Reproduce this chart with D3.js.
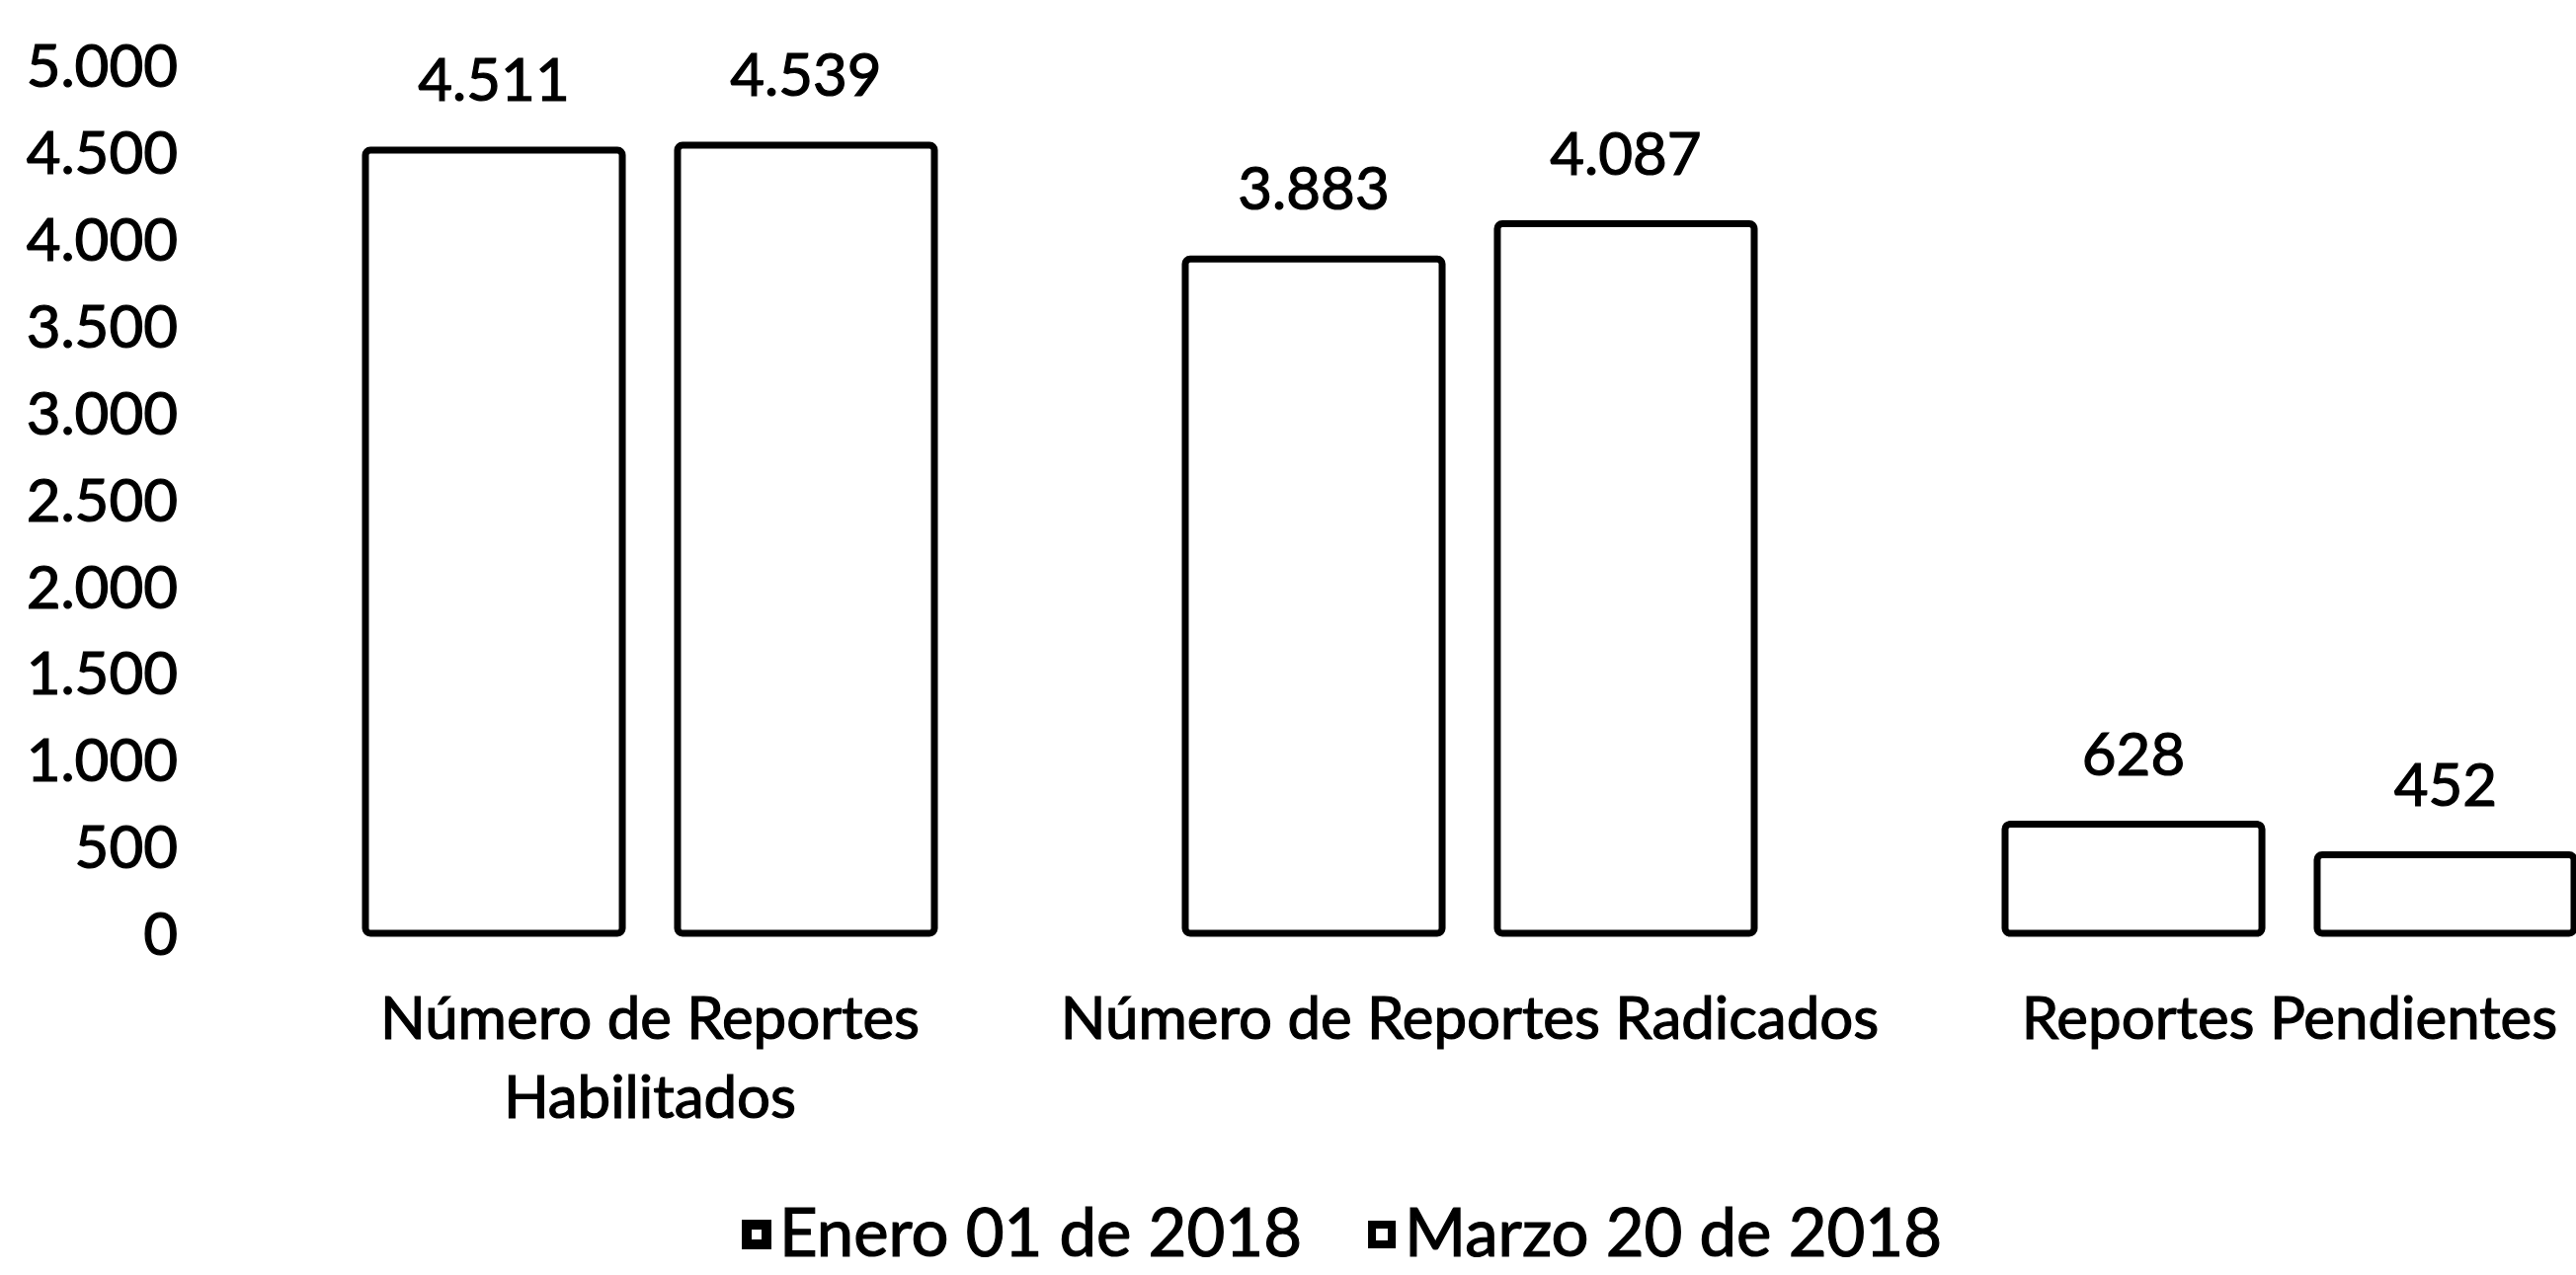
<!DOCTYPE html>
<html>
<head>
<meta charset="utf-8">
<script src="https://cdn.jsdelivr.net/npm/d3@7"></script>
<style>
  html, body { margin: 0; padding: 0; background: #fff; overflow: hidden; }
  text { font-family: Lato, "Noto Sans", sans-serif; fill: #000; stroke: #000; stroke-width: 1.2px; paint-order: stroke; }
</style>
</head>
<body>
<svg id="chart" width="2608" height="1291"></svg>
<script>
// Report counts at two cut-off dates
const categories = ["Número de Reportes Habilitados", "Número de Reportes Radicados", "Reportes Pendientes"];
const seriesNames = ["Enero 01 de 2018", "Marzo 20 de 2018"];
const eneroValues = [4511, 3883, 628];
const marzoValues = [4539, 4087, 452];
const yTickValues = [0, 500, 1000, 1500, 2000, 2500, 3000, 3500, 4000, 4500, 5000];

const seriesValues = [eneroValues, marzoValues];

// Spanish number format: dot as thousands separator
const locale = d3.formatLocale({ decimal: ",", thousands: ".", grouping: [3], currency: ["$", ""] });
const fmt = locale.format(",d");

const svg = d3.select("#chart");

const baseY = 945, topY = 66;
const x0 = d3.scaleBand().domain(categories).range([243, 2733]).paddingInner(0.306).paddingOuter(0.153);
const x1 = d3.scaleBand().domain(seriesNames).range([0, x0.bandwidth()]).paddingInner(0.177);
const y = d3.scaleLinear().domain([0, 5000]).range([baseY, topY]);

// Value axis: labels only
const yAxis = svg.append("g")
  .attr("transform", "translate(180,0)")
  .call(d3.axisLeft(y).tickValues(yTickValues).tickFormat(fmt).tickSize(0).tickPadding(0));
yAxis.select(".domain").remove();
yAxis.selectAll("text")
  .attr("dy", "0.36em")
  .style("font-family", "Lato, 'Noto Sans', sans-serif")
  .style("font-size", "60px")
  .attr("fill", "#000");

// Bars
const rows = categories.map((c, i) => ({
  category: c,
  values: seriesNames.map((s, j) => ({ series: s, value: seriesValues[j][i] }))
}));

const groups = svg.append("g").selectAll("g")
  .data(rows)
  .join("g")
  .attr("transform", d => `translate(${x0(d.category)},0)`);

groups.selectAll("rect")
  .data(d => d.values)
  .join("rect")
  .attr("x", d => x1(d.series))
  .attr("y", d => y(d.value))
  .attr("width", x1.bandwidth())
  .attr("height", d => y(0) - y(d.value))
  .attr("rx", 5)
  .attr("fill", "#fff")
  .attr("stroke", "#000")
  .attr("stroke-width", 7);

groups.selectAll("text.value")
  .data(d => d.values)
  .join("text")
  .attr("class", "value")
  .attr("x", d => x1(d.series) + x1.bandwidth() / 2)
  .attr("y", d => y(d.value) - 50)
  .attr("text-anchor", "middle")
  .style("font-size", "60px")
  .text(d => fmt(d.value));

// Category labels, wrapped when wider than the category slot
const catLabels = svg.append("g").selectAll("text")
  .data(categories)
  .join("text")
  .attr("x", d => x0(d) + x0.bandwidth() / 2)
  .attr("y", 1052)
  .attr("text-anchor", "middle")
  .style("font-size", "60px")
  .text(d => d);

catLabels.each(function (d) {
  const t = d3.select(this);
  if (this.getComputedTextLength() > x0.step()) {
    const words = d.split(" ");
    const first = words.slice(0, words.length - 1).join(" ");
    const last = words[words.length - 1];
    const cx = t.attr("x");
    t.text(null);
    t.append("tspan").attr("x", cx).attr("dy", 0).text(first);
    t.append("tspan").attr("x", cx).attr("dy", 80).text(last);
  }
});

// Legend
const legend = svg.append("g").attr("transform", "translate(752,1250)");
let lx = 0;
seriesNames.forEach((name, i) => {
  const item = legend.append("g").attr("transform", `translate(${lx},0)`);
  item.append("rect")
    .attr("x", 4).attr("y", -10)
    .attr("width", 20).attr("height", 20)
    .attr("fill", "#fff")
    .attr("stroke", "#000")
    .attr("stroke-width", i === 0 ? 10 : 8);
  const t = item.append("text")
    .attr("x", 37)
    .attr("y", 22)
    .style("font-size", "67px")
    .text(name);
  lx += 37 + t.node().getComputedTextLength() + 67;
});
</script>
</body>
</html>
